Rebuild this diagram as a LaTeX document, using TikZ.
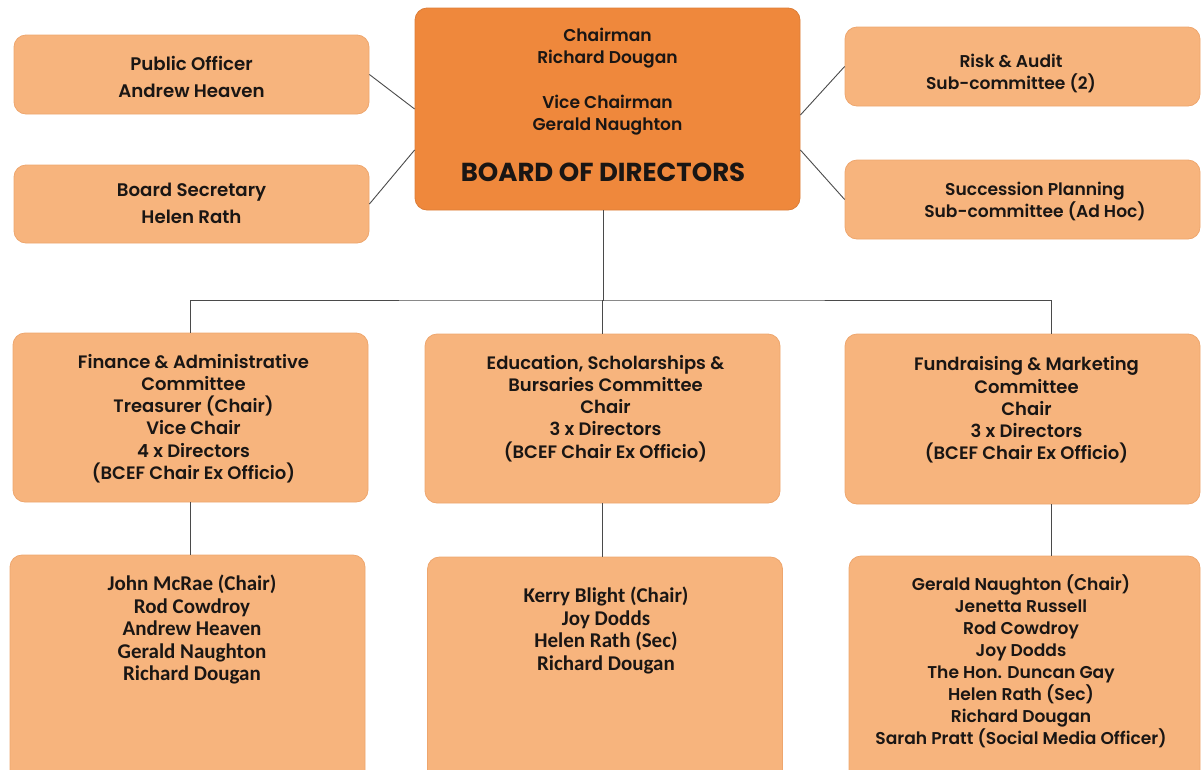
\documentclass[tikz,border=0pt]{standalone}
\usepackage{fontspec}
\setmainfont{Poppins}[UprightFont=* SemiBold, BoldFont=* Bold]
\newfontfamily\namefont{Carlito}
\definecolor{boardorange}{HTML}{EF883C}
\definecolor{paleorange}{HTML}{F7B47D}
\definecolor{edgeorange}{HTML}{EEA66E}
\definecolor{linkgray}{HTML}{4A4A4A}
\definecolor{inkblack}{HTML}{1A1614}

\begin{document}
\begin{tikzpicture}[x=1pt,y=-1pt,
  box/.style={rectangle, rounded corners=12pt, fill=paleorange, draw=edgeorange,
              line width=0.8pt, minimum width=355pt, inner sep=0pt},
  board/.style={box, fill=boardorange, draw=boardorange!92!black,
                minimum width=385pt, minimum height=202pt},
  txt/.style={align=center, text=inkblack, inner sep=0pt,
              font=\fontsize{18}{22.2}\selectfont},
  sidetxt/.style={txt, font=\fontsize{18.2}{27}\selectfont},
  subtxt/.style={txt, font=\fontsize{17.1}{22}\selectfont},
  names/.style={txt, font=\namefont\bfseries\fontsize{21}{22.5}\selectfont},
  link/.style={draw=linkgray, line width=0.9pt}]

\useasboundingbox (0,0) rectangle (1202,769);
\clip (0,0) rectangle (1202,769);

% boxes
\node[board] (board) at (607.5,109) {};
\node[box, minimum height=79pt] (pub) at (191.5,74.5) {};
\node[box, minimum height=78pt] (sec) at (191.5,204) {};
\node[box, minimum height=79pt] (risk) at (1022.5,66.5) {};
\node[box, minimum height=79pt] (succ) at (1022.5,199.5) {};
\node[box, minimum height=169pt] (fin) at (190.5,417.5) {};
\node[box, minimum height=169pt] (edu) at (602.5,418.5) {};
\node[box, minimum height=170pt] (fund) at (1022.5,419) {};
\node[box, minimum height=245pt] (john) at (187.5,677.5) {};
\node[box, minimum height=243pt] (kerry) at (605,678.5) {};
\node[box, minimum width=351pt, minimum height=244pt] (gerald) at (1024.5,678) {};

% texts
\node[subtxt] (chair-t) at (607.5,48) {Chairman\\Richard Dougan};
\node[subtxt] (vice-t) at (607.5,115) {Vice Chairman\\Gerald Naughton};
\node[txt, font=\bfseries\fontsize{26}{28}\selectfont] (board-t) at (603,172) {BOARD OF DIRECTORS};
\node[sidetxt] (pub-t) at (191.5,76.5) {Public Officer\\Andrew Heaven};
\node[sidetxt] (sec-t) at (191.5,203.5) {Board Secretary\\Helen Rath};
\node[subtxt] (risk-t) at (1011,73) {Risk \& Audit\\Sub-committee (2)};
\node[subtxt] (succ-t) at (1035,201) {Succession Planning\\Sub-committee (Ad Hoc)};
\node[txt] (fin-t) at (193.5,418.5) {Finance \& Administrative\\Committee\\Treasurer (Chair)\\Vice Chair\\4 x Directors\\(BCEF Chair Ex Officio)};
\node[txt] (edu-t) at (605.5,408.5) {Education, Scholarships \&\\Bursaries Committee\\Chair\\3 x Directors\\(BCEF Chair Ex Officio)};
\node[txt] (fund-t) at (1026.5,410) {Fundraising \& Marketing\\Committee\\Chair\\3 x Directors\\(BCEF Chair Ex Officio)};
\node[names] (john-t) at (192,629.5) {John McRae (Chair)\\Rod Cowdroy\\Andrew Heaven\\Gerald Naughton\\Richard Dougan};
\node[names] (kerry-t) at (606,630.5) {Kerry Blight (Chair)\\Joy Dodds\\Helen Rath (Sec)\\Richard Dougan};
\node[subtxt] (gerald-t) at (1021,661.5) {Gerald Naughton (Chair)\\Jenetta Russell\\Rod Cowdroy\\Joy Dodds\\The Hon. Duncan Gay\\Helen Rath (Sec)\\Richard Dougan\\Sarah Pratt (Social Media Officer)};

% connectors
\draw[link] (pub.east) -- (board.west);
\draw[link] (sec.east) -- ([yshift=-41pt]board.west);
\draw[link] (risk.west) -- ([yshift=-6pt]board.east);
\draw[link] (succ.west) -- ([yshift=-41pt]board.east);
\coordinate (bus) at (603,300);
\draw[link] ([xshift=-4.5pt]board.south) -- (bus);
\draw[link] (fin.north) |- (bus) -| ([xshift=28.5pt]fund.north);
\draw[link] (bus) -- (bus -| edu.north) -- (edu.north);
\draw[link] (fin.south) -- (fin.south |- john.north);
\draw[link] (edu.south) -- (edu.south |- kerry.north);
\draw[link] ([xshift=28.5pt]fund.south) -- ([xshift=28.5pt]fund.south |- gerald.north);
\end{tikzpicture}
\end{document}
